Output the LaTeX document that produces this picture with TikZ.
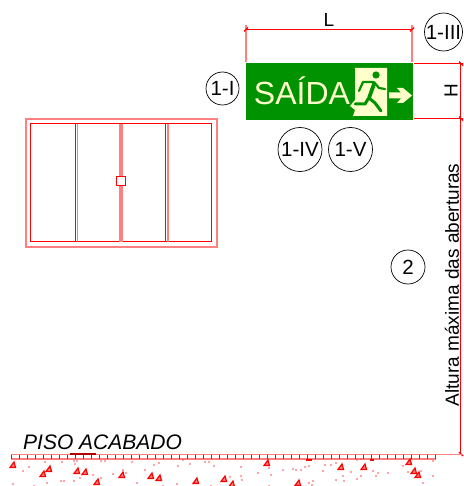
\documentclass[tikz,border=0pt]{standalone}
\usepackage{fontspec}
\setmainfont{Liberation Sans}
\definecolor{signgreen}{RGB}{0,146,0}
\definecolor{signcream}{RGB}{255,255,204}
\definecolor{purered}{RGB}{255,0,0}
\tikzset{
  dimline/.style={purered,line width=1.2pt},
  palered/.style={purered!50,line width=1.6pt},
  callout/.style={draw,circle,line width=0.7pt,inner sep=0pt,font=\fontsize{20.5}{20.5}\selectfont},
  runner/.style={signgreen,line width=3.8pt,line cap=round,line join=round},
}
\begin{document}
\begin{tikzpicture}[x=1pt,y=-1pt]
\useasboundingbox (0,0) rectangle (463,486);

% window
\draw[palered] (26,119) rectangle (217,247) ;
\draw[dimline] (30.5,123.5) rectangle (211.5,241.5) ;
\draw[dimline] (75.5,123.5) -- (75.5,241.5) ;
\draw[palered] (77.5,124) -- (77.5,242) ;
\draw[purered!50,line width=3.8pt] (121,124) -- (121,242) ;
\draw[dimline] (165.5,123.5) -- (165.5,241.5) ;
\draw[palered] (168,124) -- (168,242) ;
\draw[dimline,fill=white] (116.5,176.5) rectangle (125.5,185.5) ;

% sign
\fill[signgreen] (246,63) rectangle (413,120) ;
\node[text=signcream,font=\fontsize{32}{32}\selectfont,inner sep=0pt] (saida) at (302,91) {SAÍDA} ;
\fill[signcream] (355,68) -- (387,68) -- (387,116) -- (353,116) -- (355,110) -- (350,106) -- (355,100) -- cycle ;
\fill[signgreen] (376,75) circle (3.6pt) ;
\draw[runner] (374,84) -- (369,98) ;
\draw[runner,line width=3pt] (369,98) -- (375,103) -- (381,111) ;
\draw[runner,line width=3pt] (368,99) -- (365,104) -- (355,104) ;
\draw[runner,line width=2.2pt] (374,82) -- (379,88) -- (385,89) ;
\draw[runner,line width=2.2pt] (373,82) -- (363,82) -- (359,91) ;
\fill[signcream] (389,92.5) -- (401,92.5) -- (397,88) -- (403,88) -- (412,95.5) -- (403,103) -- (397,103) -- (401,98.5) -- (389,98.5) -- cycle ;

% dimensions
\coordinate (topleft) at (246,29.5) ;
\coordinate (topright) at (412,29.5) ;
\draw[dimline] (topleft) -- (topright) ;
\draw[palered] (topleft) ++(0,-4) -- (246,62) ;
\draw[palered] (topright) ++(0,-4) -- (412,62) ;
\draw[dimline] (244,31.5) -- (248,27.5) ;
\draw[dimline] (410,31.5) -- (414,27.5) ;
\node[font=\fontsize{19}{19}\selectfont,inner sep=0pt] (lenlabel) at (329,20) {L} ;

\coordinate (hightop) at (460.5,63.5) ;
\coordinate (highlow) at (460.5,118.5) ;
\coordinate (floormark) at (460.5,454) ;
\draw[dimline] (414,63.5) -- (463,63.5) ;
\draw[dimline] (414,118.5) -- (463,118.5) ;
\draw[dimline] (hightop) -- (highlow) -- (floormark) ;
\draw[dimline] (459,61.5) -- (463,65.5) ;
\draw[dimline] (459,116.5) -- (463,120.5) ;
\draw[dimline] (459,452) -- (463,456) ;
\node[rotate=90,font=\fontsize{19}{19}\selectfont,inner sep=0pt] (highlabel) at (451,91) {H} ;
\node[rotate=90,font=\fontsize{19}{19}\selectfont,inner sep=0pt] (altlabel) at (452,285) {Altura máxima das aberturas} ;

% callouts
\node[callout,minimum size=33pt] (c1) at (222.5,88.5) {1-I} ;
\node[callout,minimum size=37pt] (c3) at (443.5,32) {1-III} ;
\node[callout,minimum size=44pt] (c4) at (300,149.5) {1-IV} ;
\node[callout,minimum size=44pt] (c5) at (350.5,149.5) {1-V} ;
\node[callout,minimum size=34pt] (c2) at (408,267) {2} ;

% floor
\node[font=\itshape\fontsize{21}{21}\selectfont,inner sep=0pt,anchor=west] (floorlabel) at (23,442) {PISO ACABADO} ;
\draw[palered] (11,454.5) -- (463,454.5) ;
\draw[palered,line width=2pt] (11,459) -- (436,459) ;
\foreach \x in {11,19,...,435} {
  \draw[purered,line width=1.2pt] (\x.5,454.5) -- (\x.5,459) ;
}
\draw[purered!70!black,line width=1.2pt] (70,454) -- (96,454) ;
\fill[purered] (306,458.5) rectangle (312,461) ;
\fill[purered] (370,458.5) rectangle (374,461) ;
\foreach \x/\y in {13/465,43/474,49/469,77/471,85/472,97/482,122/475,151/476,159/478,196/481,224/479,232/484,267/463,298/483,341/467,364/467,409/462,414/471,418/475} {
  \draw[purered,line width=1.2pt,fill=purered!50] (\x-3,\y+2.5) -- (\x+2.5,\y+2.5) -- (\x+1,\y-3) -- cycle ;
}
\foreach \x/\y in {45/462,62/462,23/471,29/467,74/461,77/461,75/464,101/461,105/461,132/462,123/470,126/473,145/470,154/465,159/463,183/460,190/464,178/466,205/462,209/462,214/466,13/484,34/486,47/483,61/481,64/481,74/481,80/478,93/475,113/474,101/478,137/483,163/486,177/484,211/486,230/477,241/467,241/476,242/480,258/473,269/468,271/475,283/470,293/469,296/470,301/470,305/467,309/466,325/465,331/465,336/463,323/471,351/472,343/476,344/481,336/480,357/479,361/476,357/460,361/459,373/471,378/473,376/476,388/473,403/466,408/472,421/471,433/476,433/461,423/483,313/481,309/483,269/486,312/485} {
  \fill[purered!70] (\x,\y) circle (0.9pt) ;
}
\end{tikzpicture}
\end{document}
